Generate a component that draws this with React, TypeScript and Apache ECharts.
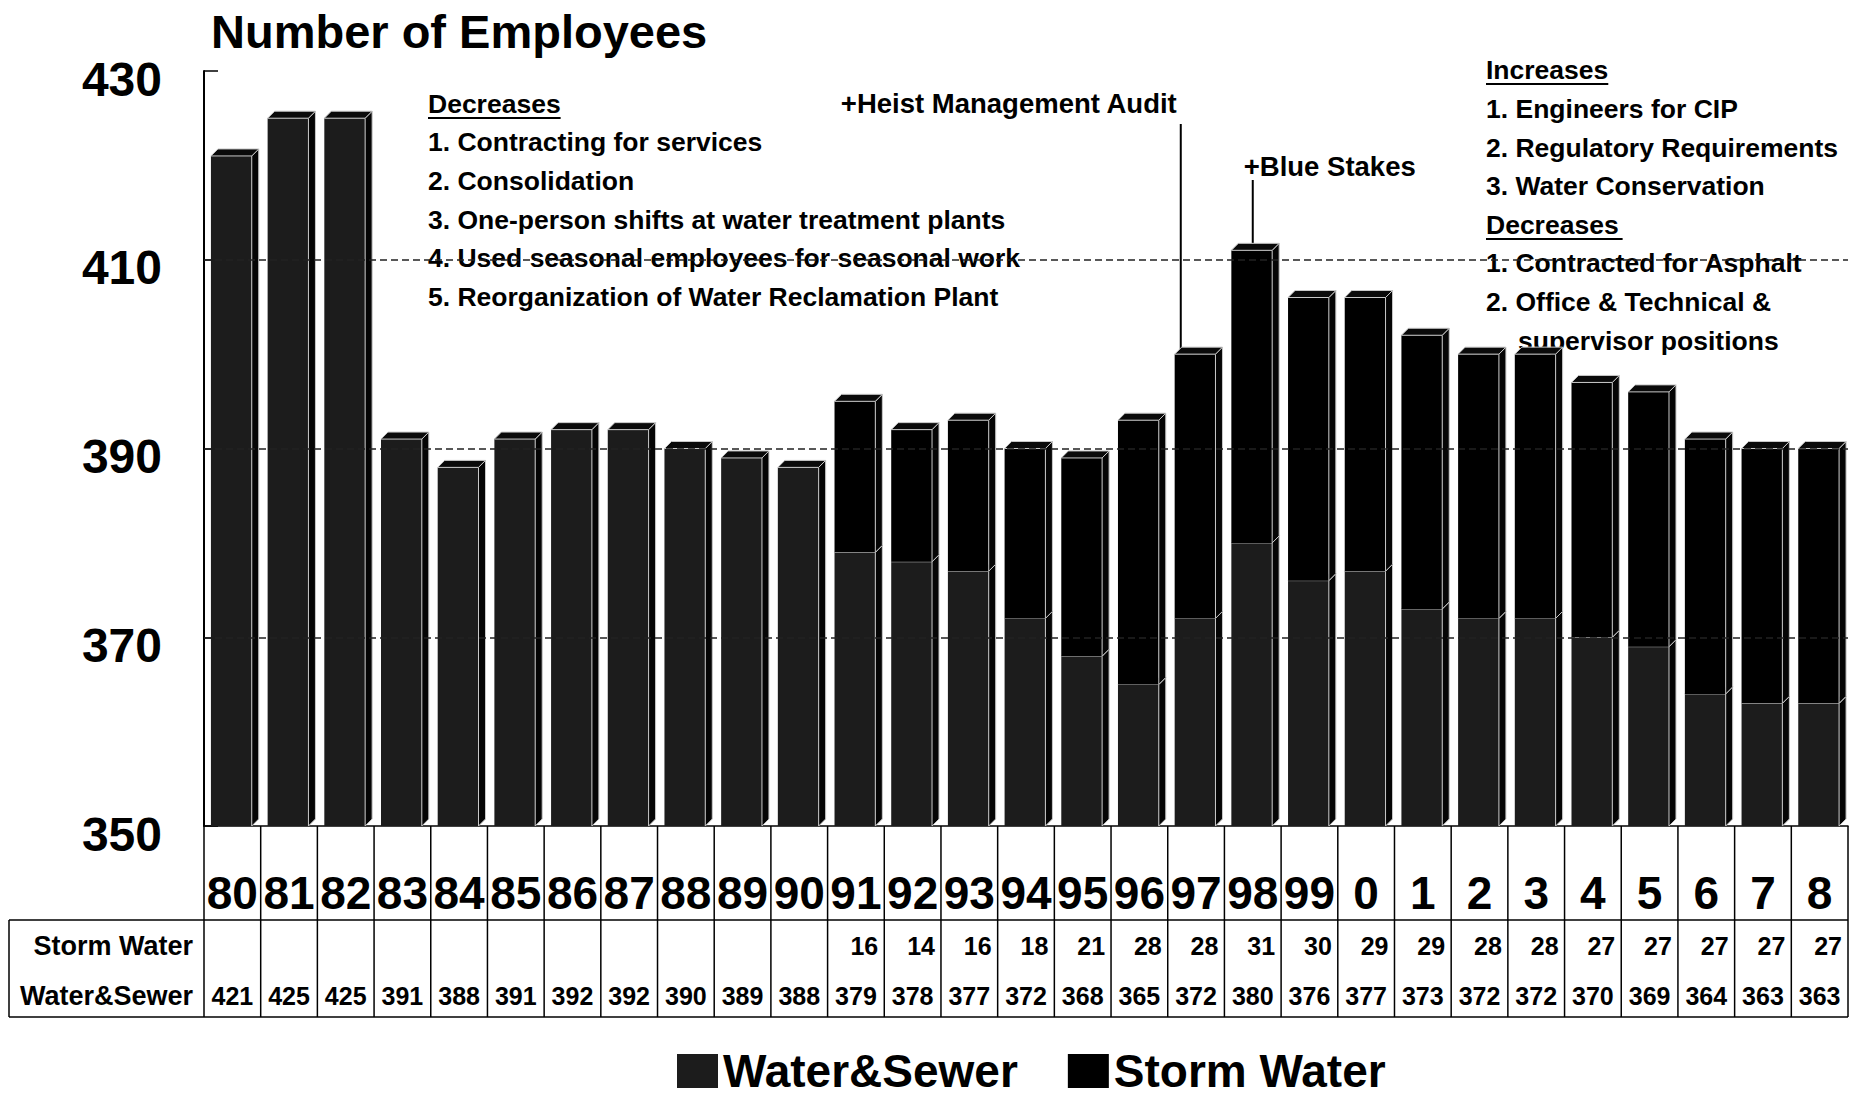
import React, { useEffect, useRef } from 'react';
import * as echarts from 'echarts';

const years = ['80', '81', '82', '83', '84', '85', '86', '87', '88', '89', '90', '91', '92', '93', '94', '95', '96', '97', '98', '99', '0', '1', '2', '3', '4', '5', '6', '7', '8'];
const waterSewer = [421, 425, 425, 391, 388, 391, 392, 392, 390, 389, 388, 379, 378, 377, 372, 368, 365, 372, 380, 376, 377, 373, 372, 372, 370, 369, 364, 363, 363];
const stormWater: (number | null)[] = [null, null, null, null, null, null, null, null, null, null, null, 16, 14, 16, 18, 21, 28, 28, 31, 30, 29, 29, 28, 28, 27, 27, 27, 27, 27];
const yMin = 350;
const yMax = 430;
const yStep = 20;
const dashedLevels = [370, 390, 410];

const titleText = 'Number of Employees';
const leftHeading = 'Decreases';
const leftNotes = [
  '1. Contracting for services',
  '2. Consolidation',
  '3. One-person shifts at water treatment plants',
  '4. Used seasonal employees for seasonal work',
  '5. Reorganization of Water Reclamation Plant',
];
const heistNote = '+Heist Management Audit';
const heistYear = '97';
const blueNote = '+Blue Stakes';
const blueYear = '98';
const rightHeading1 = 'Increases';
const rightNotes1 = ['1. Engineers for CIP', '2. Regulatory Requirements', '3. Water Conservation'];
const rightHeading2 = 'Decreases';
const rightNotes2 = ['1. Contracted for Asphalt', '2. Office & Technical &'];
const rightNotes2Cont = 'supervisor positions';

const FONT = "'Liberation Sans', Arial, Helvetica, sans-serif";
const WS_COLOR = '#1c1c1c';
const SW_COLOR = '#000000';

function measure(t: string, size: number) {
  const c = document.createElement('canvas').getContext('2d')!;
  c.font = `bold ${size}px ${FONT}`;
  return c.measureText(t).width;
}

export default function App() {
  const ref = useRef<HTMLDivElement>(null);
  useEffect(() => {
    const chart = echarts.init(ref.current!, null, { renderer: 'svg' });
    const depth = 7;
    const makeRender = (frontColor: string) => (params: any, api: any) => {
      const i = api.value(0);
      const lo = api.value(1);
      const hi = api.value(2);
      const pLo = api.coord([i, lo]);
      const pHi = api.coord([i, hi]);
      const band = api.size([1, 0])[0];
      const w = band * 0.72;
      const x0 = pLo[0] - w / 2 - 1;
      const x1 = x0 + w;
      const yT = pHi[1];
      const yB = pLo[1];
      return {
        type: 'group',
        children: [
          { type: 'rect', shape: { x: x0, y: yT, width: w, height: yB - yT }, style: { fill: frontColor } },
          {
            type: 'polygon',
            shape: { points: [[x1, yT], [x1 + depth, yT - depth], [x1 + depth, yB - depth], [x1, yB]] },
            style: { fill: '#050505', stroke: '#c8c8c8', lineWidth: 1 },
          },
          {
            type: 'polygon',
            shape: { points: [[x0, yT], [x0 + depth, yT - depth], [x1 + depth, yT - depth], [x1, yT]] },
            style: { fill: '#0a0a0a', stroke: '#c8c8c8', lineWidth: 1 },
          },
        ],
      };
    };

    const wsData = years.map((_, i) => [i, yMin, waterSewer[i]]);
    const swData: number[][] = [];
    years.forEach((_, i) => {
      const s = stormWater[i];
      if (s != null) swData.push([i, waterSewer[i], waterSewer[i] + s]);
    });

    chart.setOption({
      animation: false,
      backgroundColor: '#ffffff',
      textStyle: { fontFamily: FONT },
      grid: { left: 204, right: 7, top: 71, bottom: 272, containLabel: false },
      xAxis: {
        type: 'category',
        data: years,
        boundaryGap: true,
        axisLabel: { show: false },
        axisTick: { show: false },
        axisLine: { show: true, lineStyle: { color: '#000', width: 1.5 } },
        splitLine: { show: false },
      },
      yAxis: {
        type: 'value',
        min: yMin,
        max: yMax,
        interval: yStep,
        axisLine: { show: true, lineStyle: { color: '#000', width: 2 } },
        axisTick: { show: true, inside: true, length: 14, lineStyle: { color: '#000', width: 1.5 } },
        splitLine: { show: false },
        axisLabel: {
          color: '#000',
          fontSize: 48,
          fontWeight: 'bold',
          fontFamily: FONT,
          margin: 42,
          formatter: '{a|{value}}',
          rich: {
            a: { fontSize: 48, fontWeight: 'bold', fontFamily: FONT, color: '#000', padding: [16, 0, 0, 0] },
          },
        },
      },
      legend: {
        data: ['Water&Sewer', 'Storm Water'],
        left: 672,
        top: 1040,
        icon: 'rect',
        itemWidth: 41,
        itemHeight: 34,
        itemGap: 50,
        textStyle: { fontSize: 46, lineHeight: 52, fontWeight: 'bold', color: '#000', fontFamily: FONT },
      },
      series: [
        {
          type: 'line',
          data: [],
          z: 1,
          silent: true,
          markLine: {
            silent: true,
            symbol: 'none',
            label: { show: false },
            lineStyle: { color: '#222', width: 1.5, type: [7, 4] },
            data: dashedLevels.map((v) => ({ yAxis: v })),
          },
        },
        {
          name: 'Water&Sewer',
          type: 'custom',
          z: 3,
          itemStyle: { color: WS_COLOR },
          encode: { x: 0, y: [1, 2] },
          renderItem: makeRender(WS_COLOR),
          data: wsData,
        },
        {
          name: 'Storm Water',
          type: 'custom',
          z: 4,
          itemStyle: { color: SW_COLOR },
          encode: { x: 0, y: [1, 2] },
          renderItem: makeRender(SW_COLOR),
          data: swData,
        },
      ],
    });

    // Positions from the library's scales
    const px = (i: number, v: number) => chart.convertToPixel({ gridIndex: 0 }, [i, v]) as number[];
    const c0 = px(0, yMin);
    const c1 = px(1, yMin);
    const band = c1[0] - c0[0];
    const axisY = c0[1];
    const left0 = c0[0] - band / 2;
    const rightN = px(years.length - 1, yMin)[0] + band / 2;

    const g: any[] = [];
    const txt = (text: string, x: number, y: number, size: number, align = 'left', vAlign = 'middle') => ({
      type: 'text',
      x,
      y,
      silent: true,
      style: { text, fill: '#000', fontSize: size, fontWeight: 'bold', fontFamily: FONT, align, verticalAlign: vAlign },
    });
    const ln = (x1: number, y1: number, x2: number, y2: number, w = 1.5) => ({
      type: 'line',
      silent: true,
      shape: { x1, y1, x2, y2 },
      style: { stroke: '#000', lineWidth: w },
    });

    // Title
    g.push(txt(titleText, 211, 31, 47));

    // Table
    const rowSplit = 920;
    const tableBottom = 1017;
    const tableLeft = 9;
    const yearY = 893;
    const swY = 946;
    const wsY = 996;
    g.push(ln(tableLeft, rowSplit, rightN, rowSplit));
    g.push(ln(tableLeft, tableBottom, rightN, tableBottom));
    g.push(ln(tableLeft, rowSplit, tableLeft, tableBottom));
    for (let i = 0; i <= years.length; i++) {
      const x = left0 + i * band;
      g.push(ln(x, axisY, x, tableBottom));
    }
    g.push(txt('Storm Water', left0 - 11, swY, 27, 'right'));
    g.push(txt('Water&Sewer', left0 - 11, wsY, 27, 'right'));
    years.forEach((yr, i) => {
      const cx = px(i, yMin)[0];
      g.push(txt(yr, cx, yearY, 46, 'center'));
      const s = stormWater[i];
      if (s != null) g.push(txt(String(s), cx + band / 2 - 6, swY, 25, 'right'));
      g.push(txt(String(waterSewer[i]), cx, wsY, 25, 'center'));
    });

    // Left notes
    const noteSize = 26.5;
    const lx = 428;
    g.push(txt(leftHeading, lx, 104, noteSize));
    g.push(ln(lx, 118, lx + measure(leftHeading, noteSize), 118, 2));
    leftNotes.forEach((t, k) => g.push(txt(t, lx, 142 + k * 38.8, noteSize)));

    // Heist annotation
    const hi = years.indexOf(heistYear);
    const hTop = px(hi, waterSewer[hi] + (stormWater[hi] || 0));
    const hx = hTop[0] - band * 0.27;
    g.push(txt(heistNote, hx - 4, 103, 27.5, 'right'));
    g.push(ln(hx, 124, hx, hTop[1] - 3, 2));

    // Blue stakes annotation
    const bi = years.indexOf(blueYear);
    const bTop = px(bi, waterSewer[bi] + (stormWater[bi] || 0));
    g.push(txt(blueNote, bTop[0] - 9, 166, 27.5));
    g.push(ln(bTop[0], 180, bTop[0], bTop[1] - depth, 2));

    // Right notes
    const rx = 1486;
    g.push(txt(rightHeading1, rx, 70, noteSize));
    g.push(ln(rx, 84, rx + measure(rightHeading1, noteSize), 84, 2));
    rightNotes1.forEach((t, k) => g.push(txt(t, rx, 109 + k * 38.7, noteSize)));
    g.push(txt(rightHeading2, rx, 225, noteSize));
    g.push(ln(rx, 239, rx + measure(rightHeading2, noteSize) + 4, 239, 2));
    rightNotes2.forEach((t, k) => g.push(txt(t, rx, 263 + k * 38.7, noteSize)));
    g.push(txt(rightNotes2Cont, rx + 32, 341, noteSize));

    chart.setOption({ graphic: g });

    return () => chart.dispose();
  }, []);
  return <div ref={ref} style={{ position: 'fixed', left: 0, top: 0, width: 1855, height: 1098 }} />;
}
